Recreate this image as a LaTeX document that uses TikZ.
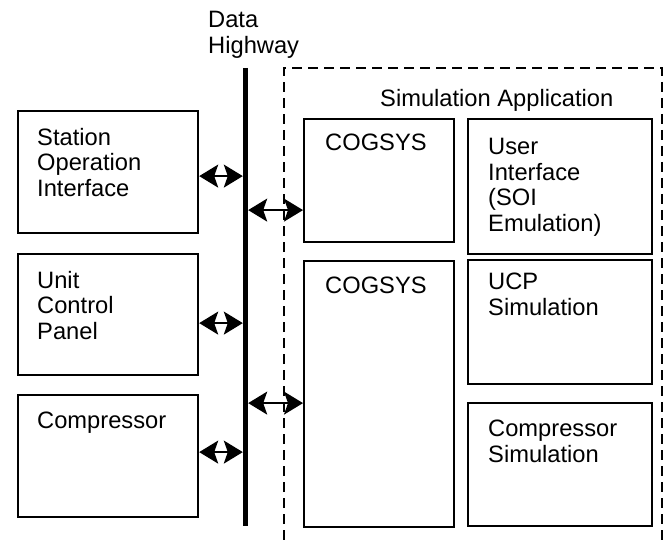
\documentclass[tikz,border=0pt]{standalone}
\usepackage{fontspec}
\setmainfont{Liberation Sans}
\usetikzlibrary{arrows.meta,calc}
\begin{document}
\begin{tikzpicture}[x=1pt,y=-1pt,
  box/.style={draw,line width=2.2pt,anchor=north west,inner sep=0pt},
  lbl/.style={anchor=north west,inner sep=0pt,align=left,font=\fontsize{23.7}{25.5}\selectfont},
  dbl/.style={line width=1.6pt,{Stealth[length=19pt,width=23pt,inset=4pt]}-{Stealth[length=19pt,width=23pt,inset=4pt]}},
  dashbox/.style={line width=2pt,dash pattern=on 10pt off 6pt}]
\useasboundingbox (0,0) rectangle (669,540);
% dashed simulation application frame
\coordinate (dBL) at (284,540);
\coordinate (dTL) at (284,68);
\coordinate (dTR) at (662,68);
\coordinate (dBR) at (662,540);
\draw[dashbox] (dBL) -- (dTL) -- (dTR) -- (dBR);
% data highway
\coordinate (hwT) at (245.5,68);
\coordinate (hwB) at (245.5,526);
\draw[line width=5.5pt] (hwT) -- (hwB);
\coordinate (hwL) at (242.8,0);
\coordinate (hwR) at (248.2,0);
% boxes
\node[box,minimum width=180pt,minimum height=122pt] (soi) at (17,110) {};
\node[box,minimum width=180pt,minimum height=121pt] (ucp) at (17,253) {};
\node[box,minimum width=180pt,minimum height=122pt] (comp) at (17,394) {};
\node[box,minimum width=150pt,minimum height=123pt] (cog1) at (303,118) {};
\node[box,minimum width=150pt,minimum height=266pt] (cog2) at (303,260) {};
\node[box,minimum width=184pt,minimum height=135pt] (ui) at (467,118) {};
\node[box,minimum width=184pt,minimum height=124pt] (ucps) at (467,259) {};
\node[box,minimum width=184pt,minimum height=123pt] (comps) at (467,402) {};
% labels
\node[lbl] (tdh) at (208,11) {Data\\Highway};
\node[lbl] (tsa) at (380,89) {Simulation Application};
\node[lbl] (tsoi) at (37,128) {Station\\Operation\\Interface};
\node[lbl] (tucp) at (37,271) {Unit\\Control\\Panel};
\node[lbl] (tcomp) at (37,412) {Compressor};
\node[lbl] (tcog1) at (325,134) {COGSYS};
\node[lbl] (tcog2) at (325,277) {COGSYS};
\node[lbl] (tui) at (488,138) {User\\Interface\\(SOI\\Emulation)};
\node[lbl] (tucps) at (488,273) {UCP\\Simulation};
\node[lbl] (tcomps) at (488,420) {Compressor\\Simulation};
% connectors
\draw[dbl] ([yshift=-4pt]soi.east) -- ([yshift=-4pt]soi.east -| hwL);
\draw[dbl] ([yshift=-8.5pt]ucp.east) -- ([yshift=-8.5pt]ucp.east -| hwL);
\draw[dbl] ([yshift=4pt]comp.east) -- ([yshift=4pt]comp.east -| hwL);
\draw[dbl] ([yshift=-29.5pt]cog1.west -| hwR) -- ([yshift=-29.5pt]cog1.west);
\draw[dbl] ([yshift=-9pt]cog2.west -| hwR) -- ([yshift=-9pt]cog2.west);
\end{tikzpicture}
\end{document}
